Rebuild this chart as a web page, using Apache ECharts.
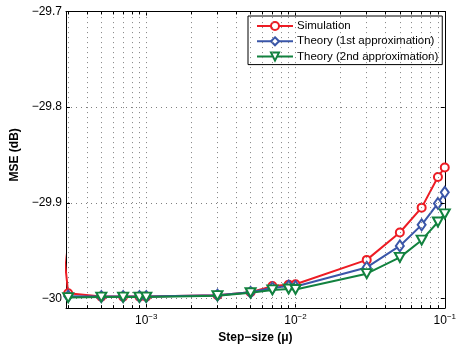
<!DOCTYPE html>
<html>
<head>
<meta charset="utf-8">
<script src="https://cdn.jsdelivr.net/npm/echarts@6/dist/echarts.min.js"></script>
<style>
  html, body { margin: 0; padding: 0; background: #fff; }
  #main { width: 459px; height: 349px; }
</style>
</head>
<body>
<div id="main"></div>
<script>
// step sizes (mu), log axis
const stepSize = [2e-4, 3e-4, 5e-4, 7e-4, 9e-4, 1e-3, 3e-3, 5e-3, 7e-3, 9e-3, 1e-2, 3e-2, 5e-2, 7e-2, 9e-2, 1e-1];
// MSE (dB)
const simulation = [-29.73, -29.9945, -29.998, -29.998, -29.998, -29.998, -29.9965, -29.9935, -29.987, -29.9855, -29.985, -29.9596, -29.931, -29.905, -29.873, -29.863];
const theory1 = [null, -29.9975, -29.998, -29.998, -29.998, -29.998, -29.9965, -29.9935, -29.989, -29.987, -29.9875, -29.9675, -29.945, -29.923, -29.9006, -29.889];
const theory2 = [null, -29.999, -29.9985, -29.9985, -29.9985, -29.9985, -29.997, -29.994, -29.991, -29.990, -29.9905, -29.974, -29.957, -29.939, -29.920, -29.9115];
const seriesNames = ['Simulation', 'Theory (1st approximation)', 'Theory (2nd approximation)'];
// y ticks
const yTicks = [-30, -29.9, -29.8, -29.7];
// x grid positions
const xMinor = [3e-4, 4e-4, 5e-4, 6e-4, 7e-4, 8e-4, 9e-4,
  2e-3, 3e-3, 4e-3, 5e-3, 6e-3, 7e-3, 8e-3, 9e-3,
  2e-2, 3e-2, 4e-2, 5e-2, 6e-2, 7e-2, 8e-2, 9e-2];
const xMajor = [1e-3, 1e-2];

const xMin = 2.9e-4, xMax = 0.1;
const yMin = -30.01, yMax = -29.7;
const FONT = 'Liberation Sans, Arial, Helvetica, sans-serif';

const myChart = echarts.init(document.getElementById('main'), null, { renderer: 'canvas' });

function pairs(ys) {
  return stepSize.map((x, i) => [x, ys[i]]);
}

const isPow10 = v => Math.abs(Math.log10(v) - Math.round(Math.log10(v))) < 1e-6;
const gridDots = { color: '#808080', width: 1, type: [1, 4] };
const tickLenY = 3 / 972;          // ~3px in y data units
const tickFacX = Math.pow(10, 4 / 150.5); // ~4px along the log x axis

const gridLines = xMinor.concat(xMajor).map(v => ({ xAxis: v }))
  .concat(yTicks.slice(0, 3).map(v => ({ yAxis: v })));

const tickSegs = [];
xMinor.forEach(v => {
  tickSegs.push([{ coord: [v, yMin] }, { coord: [v, yMin + tickLenY] }]);
  tickSegs.push([{ coord: [v, yMax] }, { coord: [v, yMax - tickLenY] }]);
});
yTicks.forEach(v => {
  tickSegs.push([{ coord: [xMin, v] }, { coord: [xMin * tickFacX, v] }]);
  tickSegs.push([{ coord: [xMax, v] }, { coord: [xMax / tickFacX, v] }]);
});

const option = {
  backgroundColor: '#fff',
  animation: false,
  textStyle: { fontFamily: FONT },
  grid: { left: 66, right: 11, top: 11.5, bottom: 36, show: false },
  legend: {
    data: seriesNames,
    orient: 'vertical',
    left: 248,
    top: 16,
    width: 194,
    backgroundColor: '#fff',
    borderColor: '#000',
    borderWidth: 1,
    borderRadius: 0,
    padding: [4, 4, 2, 8],
    itemWidth: 36,
    itemHeight: 10,
    itemGap: 3.3,
    textStyle: { color: '#000', fontSize: 11.5, fontFamily: FONT, lineHeight: 12, padding: [0, 0, 0, -1] }
  },
  xAxis: [
    {
      type: 'log',
      logBase: 10,
      min: xMin,
      max: xMax,
      position: 'bottom',
      name: 'Step\u2212size (\u03bc)',
      nameLocation: 'middle',
      nameGap: 22,
      nameTextStyle: { color: '#000', fontSize: 12, fontWeight: 'bold', fontFamily: FONT },
      axisLine: { show: true, lineStyle: { color: '#000', width: 1 } },
      axisTick: { show: true, inside: true, length: 4, lineStyle: { color: '#000' } },
      axisLabel: {
        margin: 5,
        color: '#000',
        formatter: v => isPow10(v) ? '{b|10}{s|\u2212' + (-Math.round(Math.log10(v))) + '}' : '',
        rich: {
          b: { fontSize: 12, fontFamily: FONT, color: '#000' },
          s: { fontSize: 8, fontFamily: FONT, color: '#000', padding: [0, 0, 8, 0] }
        }
      },
      splitLine: { show: false }
    },
    {
      type: 'log',
      logBase: 10,
      min: xMin,
      max: xMax,
      position: 'top',
      axisLine: { show: true, lineStyle: { color: '#000', width: 1 } },
      axisTick: { show: true, inside: true, length: 4, lineStyle: { color: '#000' } },
      axisLabel: { show: false },
      splitLine: { show: false }
    }
  ],
  yAxis: [
    {
      type: 'value',
      min: yMin,
      max: yMax,
      interval: 0.01,
      position: 'left',
      name: 'MSE (dB)',
      nameLocation: 'middle',
      nameGap: 38,
      nameTextStyle: { color: '#000', fontSize: 12, fontWeight: 'bold', fontFamily: FONT, padding: [0, 0, 0, 10] },
      axisLine: { show: true, lineStyle: { color: '#000', width: 1 } },
      axisTick: { show: false },
      axisLabel: {
        margin: 4,
        color: '#000',
        fontSize: 12,
        formatter: v => {
          if (Math.abs(v * 10 - Math.round(v * 10)) > 1e-6) return '';
          return String(Math.round(v * 10) / 10).replace('-', '\u2212');
        }
      },
      splitLine: { show: false }
    },
    {
      type: 'value',
      min: yMin,
      max: yMax,
      position: 'right',
      axisLine: { show: true, lineStyle: { color: '#000', width: 1 } },
      axisTick: { show: false },
      axisLabel: { show: false },
      splitLine: { show: false }
    }
  ],
  series: [
    {
      name: 'grid',
      type: 'line',
      data: [],
      silent: true,
      z: 1,
      markLine: {
        silent: true,
        precision: 8,
        symbol: ['none', 'none'],
        label: { show: false },
        lineStyle: gridDots,
        data: gridLines
      }
    },
    {
      name: 'ticks',
      type: 'line',
      data: [],
      silent: true,
      z: 1,
      markLine: {
        silent: true,
        precision: 8,
        symbol: ['none', 'none'],
        label: { show: false },
        lineStyle: { color: '#000', width: 1, type: 'solid' },
        data: tickSegs
      }
    },
    {
      name: seriesNames[0],
      type: 'line',
      data: pairs(simulation),
      symbol: 'emptyCircle',
      symbolSize: 8,
      clip: true,
      lineStyle: { color: '#ed1c24', width: 2 },
      itemStyle: { color: '#ed1c24', borderWidth: 2 },
      z: 3
    },
    {
      name: seriesNames[1],
      type: 'line',
      data: pairs(theory1),
      symbol: 'emptyDiamond',
      symbolSize: [8, 11],
      clip: true,
      lineStyle: { color: '#3a56a8', width: 2 },
      itemStyle: { color: '#3a56a8', borderWidth: 2 },
      z: 4
    },
    {
      name: seriesNames[2],
      type: 'line',
      data: pairs(theory2),
      symbol: 'emptyTriangle',
      symbolRotate: 180,
      symbolSize: [10, 9],
      clip: true,
      lineStyle: { color: '#12823f', width: 2 },
      itemStyle: { color: '#12823f', borderWidth: 2 },
      z: 5
    }
  ]
};

myChart.setOption(option);
</script>
</body>
</html>
